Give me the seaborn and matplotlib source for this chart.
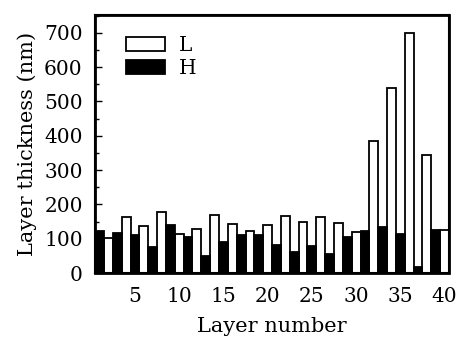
import matplotlib
matplotlib.use("Agg")
import matplotlib.pyplot as plt
from matplotlib.patches import Patch, Rectangle
from matplotlib.ticker import MultipleLocator
import seaborn as sns
import pandas as pd

# Data (odd layers = H, even layers = L)
h_layers = [1, 3, 5, 7, 9, 11, 13, 15, 17, 19, 21, 23, 25, 27, 29, 31, 33, 35, 37, 39]
h_thickness = [121, 117, 112, 75, 141, 104, 49, 90, 112, 112,
               81, 60, 78, 55, 104, 121, 134, 114, 17, 126]
l_layers = [2, 4, 6, 8, 10, 12, 14, 16, 18, 20, 22, 24, 26, 28, 30, 32, 34, 36, 38, 40]
l_thickness = [102, 162, 136, 179, 114, 129, 170, 144, 123, 140,
               165, 149, 164, 147, 119, 385, 538, 700, 343, 124]
x_ticks = [5, 10, 15, 20, 25, 30, 35, 40]
y_ticks = [0, 100, 200, 300, 400, 500, 600, 700]

df = pd.DataFrame({
    "layer": h_layers + l_layers,
    "thickness": h_thickness + l_thickness,
    "type": ["H"] * len(h_layers) + ["L"] * len(l_layers),
})
order = sorted(df["layer"].tolist())

sns.set_style("ticks", {"axes.spines.top": True, "axes.spines.right": True})
plt.rcParams["font.family"] = ["DejaVu Serif"]
plt.rcParams["text.color"] = "black"
plt.rcParams["xtick.color"] = "black"
plt.rcParams["ytick.color"] = "black"
plt.rcParams["axes.labelcolor"] = "black"

fig = plt.figure(figsize=(4.6, 3.4), dpi=100)
ax = fig.add_axes([0.207, 0.197, 0.769, 0.759])

sns.barplot(data=df, x="layer", y="thickness", hue="type", order=order,
            hue_order=["L", "H"], palette={"L": "white", "H": "black"},
            dodge=False, width=1.0, edgecolor="black", linewidth=1.3,
            legend=False, ax=ax)

ax.set_xlim(-0.5, len(order) - 0.5)
ax.set_ylim(0, 752)
ax.set_xticks([order.index(t) for t in x_ticks])
ax.set_xticklabels([str(t) for t in x_ticks])
ax.set_yticks(y_ticks)
ax.yaxis.set_minor_locator(MultipleLocator(50))
ax.tick_params(axis="y", which="major", direction="in", length=5, width=1,
               labelsize=14.5, pad=9, right=False)
ax.tick_params(axis="y", which="minor", direction="in", length=3, width=1)
ax.tick_params(axis="x", direction="in", length=2, width=0.8, labelsize=14.5, pad=10)
for name in ["left", "right", "top", "bottom"]:
    s = ax.spines[name]
    s.set_visible(True)
    s.set_linewidth(1.5)
    s.set_edgecolor("black")
    s.set_zorder(5)

# frame drawn at figure level around the axes area
fig.add_artist(Rectangle((0.207, 0.197), 0.769, 0.759, transform=fig.transFigure,
                         fill=False, edgecolor="black", linewidth=2.0, zorder=10))

ax.set_xlabel("Layer number", fontsize=15, labelpad=8)
ax.set_ylabel("Layer thickness (nm)", fontsize=15, labelpad=5)

handles = [Patch(facecolor="white", edgecolor="black", linewidth=1.3, label="L"),
           Patch(facecolor="black", edgecolor="black", linewidth=1.3, label="H")]
ax.legend(handles=handles, loc="upper left", bbox_to_anchor=(0.065, 0.95),
          frameon=False, fontsize=14.5, handlelength=1.9, handleheight=0.7,
          labelspacing=0.2, handletextpad=0.7, borderaxespad=0)

fig.savefig("out.png", dpi=100, facecolor="white")
